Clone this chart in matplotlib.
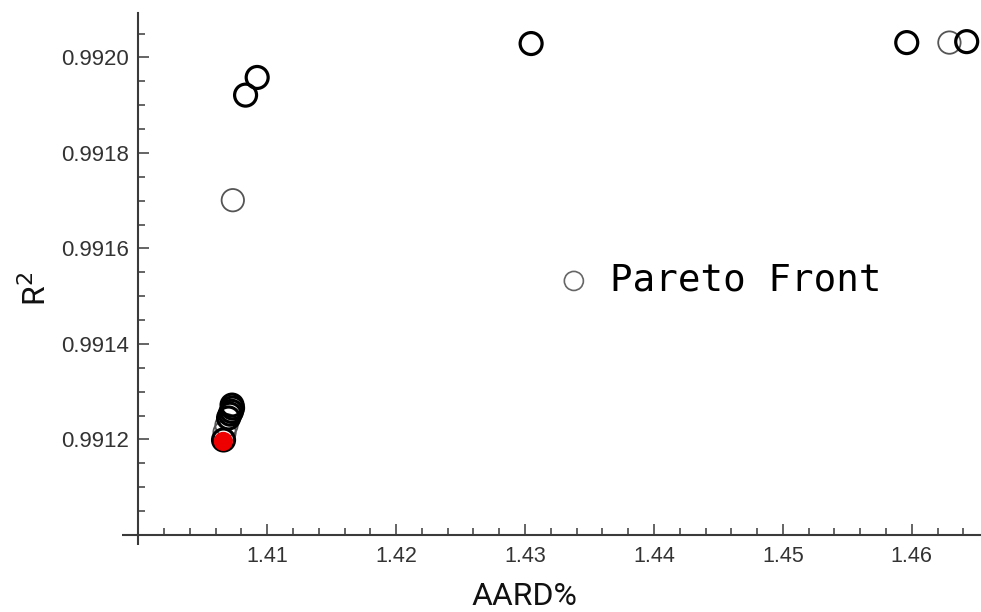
import matplotlib
matplotlib.use("Agg")
import matplotlib.pyplot as plt
from matplotlib.ticker import MultipleLocator, FixedLocator, FormatStrFormatter

# ---- data ----
bold_aard = [1.43047, 1.45961, 1.46426, 1.40922, 1.40832,
             1.40727, 1.40731, 1.40723, 1.40712, 1.40700, 1.40661]
bold_r2 = [0.992029, 0.992031, 0.992033, 0.991958, 0.991921,
           0.991272, 0.991266, 0.991259, 0.991253, 0.991245, 0.991199]
light_aard = [1.46292, 1.40733, 1.40684, 1.40669]
light_r2 = [0.992031, 0.991701, 0.991230, 0.991215]
selected_aard = [1.40659]
selected_r2 = [0.991196]

x_major = [1.41, 1.42, 1.43, 1.44, 1.45, 1.46]
y_major = [0.9912, 0.9914, 0.9916, 0.9918, 0.9920]
legend_label = "Pareto Front"

# ---- figure ----
fig = plt.figure(figsize=(9.81, 6.12), dpi=100)
ax = fig.add_axes([0.141, 0.1258, 0.859, 0.853])

axis_col = "#3a3a3a"

ax.scatter(light_aard, light_r2, s=260, facecolors="none", edgecolors="#555555",
           linewidths=1.3, zorder=3, label=legend_label)
ax.scatter(bold_aard, bold_r2, s=250, facecolors="none", edgecolors="black",
           linewidths=2.3, zorder=4)
ax.scatter(selected_aard, selected_r2, s=190, color="#ee0000", edgecolors="none",
           zorder=5)

ax.set_xlim(1.400, 1.46537)
ax.set_ylim(0.9910, 0.992093)

ax.xaxis.set_major_locator(FixedLocator(x_major))
ax.xaxis.set_minor_locator(MultipleLocator(0.002))
ax.yaxis.set_major_locator(FixedLocator(y_major))
ax.yaxis.set_minor_locator(MultipleLocator(0.00005))
ax.xaxis.set_major_formatter(FormatStrFormatter("%.2f"))
ax.yaxis.set_major_formatter(FormatStrFormatter("%.4f"))

for sp in ["top", "right"]:
    ax.spines[sp].set_visible(False)
for sp in ["left", "bottom"]:
    ax.spines[sp].set_color(axis_col)
    ax.spines[sp].set_linewidth(1.5)

# axis-crossing extensions
ax.plot([-0.0197, 0], [0, 0], transform=ax.transAxes, color=axis_col, lw=1.5,
        clip_on=False, solid_capstyle="butt")
ax.plot([0, 0], [-0.019, 0], transform=ax.transAxes, color=axis_col, lw=1.5,
        clip_on=False, solid_capstyle="butt")

ax.tick_params(which="both", direction="in", colors=axis_col, width=1.1)
ax.tick_params(which="major", length=8)
ax.tick_params(which="minor", length=5)
ax.tick_params(axis="x", which="major", pad=8, labelsize=15.5, labelcolor="#333333")
ax.tick_params(axis="y", which="major", pad=7, labelsize=16, labelcolor="#333333")
for lab in ax.get_xticklabels() + ax.get_yticklabels():
    lab.set_fontfamily("Liberation Sans")

ax.set_xlabel("AARD%", fontfamily="Roboto", fontsize=23, color="#111111")
ax.xaxis.set_label_coords(0.458, -0.090)
ax.set_ylabel("R$^2$", fontfamily="Roboto", fontsize=23, color="#111111")
ax.yaxis.set_label_coords(-0.103, 0.471)

leg = ax.legend(loc="center left", bbox_to_anchor=(0.5035, 0.487), frameon=False,
                prop={"family": "DejaVu Sans Mono", "size": 27},
                handlelength=0.6, handletextpad=0.66, markerscale=0.85,
                borderaxespad=0, borderpad=0)
for h in leg.legend_handles:
    h.set_edgecolor("#666666")
    h.set_linewidth(1.2)

fig.savefig("out.png", dpi=100)
